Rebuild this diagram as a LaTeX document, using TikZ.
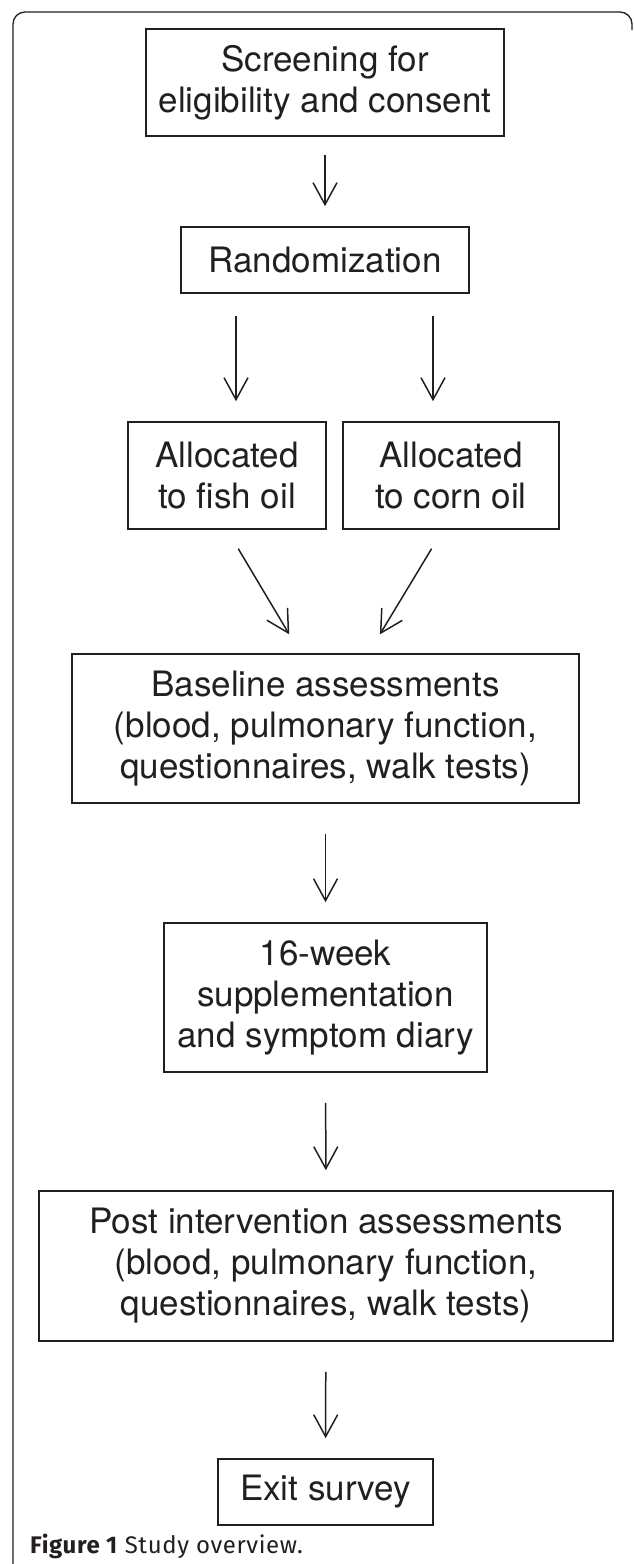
\documentclass[tikz,border=0pt]{standalone}
\usepackage{fontspec}
\setmainfont{TeX Gyre Heros}
\newfontfamily\captionfont[LetterSpace=2.5]{Fira Sans}
\usetikzlibrary{arrows.meta}
\definecolor{inkgrey}{RGB}{35,31,32}

\begin{document}
\begin{tikzpicture}[x=1pt,y=-1pt,
  box/.style={draw=inkgrey, line width=1.6pt, inner sep=0pt, align=center, text=inkgrey, font=\fontsize{35}{41}\selectfont},
  arr/.style={draw=inkgrey, line width=1.5pt, -{Straight Barb[length=22pt,width=24pt]}, shorten <=18pt, shorten >=20pt}]
\useasboundingbox (0,0) rectangle (633,1564);
\draw[inkgrey, line width=1.3pt, rounded corners=12pt] (13,1564) -- (13,12) -- (632,12) -- (632,30);

\node[box, minimum width=358pt, minimum height=107pt] (scr) at (325,82.5) {Screening for\\eligibility and consent};
\node[box, minimum width=288pt, minimum height=66pt] (rand) at (325,260) {Randomization};
\node[box, minimum width=198pt, minimum height=107pt] (fish) at (227,475.5) {Allocated\\to fish oil};
\node[box, minimum width=216pt, minimum height=107pt] (corn) at (451,475.5) {Allocated\\to corn oil};
\node[box, minimum width=507pt, minimum height=149pt] (base) at (325.5,728.5) {Baseline assessments\\(blood, pulmonary function,\\questionnaires, walk tests)};
\node[box, minimum width=323pt, minimum height=149pt] (week) at (325.5,997.5) {16-week\\supplementation\\and symptom diary};
\node[box, minimum width=574pt, minimum height=150pt] (post) at (326,1266) {Post intervention assessments\\(blood, pulmonary function,\\questionnaires, walk tests)};
\node[box, minimum width=215pt, minimum height=66pt] (exit) at (325.5,1492) {Exit survey};

\draw[arr] (scr) -- (rand);
\draw[arr, shorten <=22pt] ([xshift=-89pt]rand.south) -- ([xshift=9pt]fish.north);
\draw[arr, shorten <=22pt] ([xshift=108pt]rand.south) -- ([xshift=-18pt]corn.north);
\draw[arr, shorten <=22pt, shorten >=22pt] (fish.south) -- ([xshift=-25pt]base.north);
\draw[arr, shorten <=22pt, shorten >=22pt] ([xshift=-8pt]corn.south) -- ([xshift=43pt]base.north);
\draw[arr, shorten <=30pt] (base) -- (week);
\draw[arr, shorten <=30pt] (week) -- (post);
\draw[arr, shorten <=30pt] (post) -- (exit);

\node[anchor=base west, inner sep=0pt, text=inkgrey, font=\captionfont\fontsize{24}{28}\selectfont] (cap) at (30,1553) {\textbf{Figure 1} Study overview.};
\end{tikzpicture}
\end{document}
